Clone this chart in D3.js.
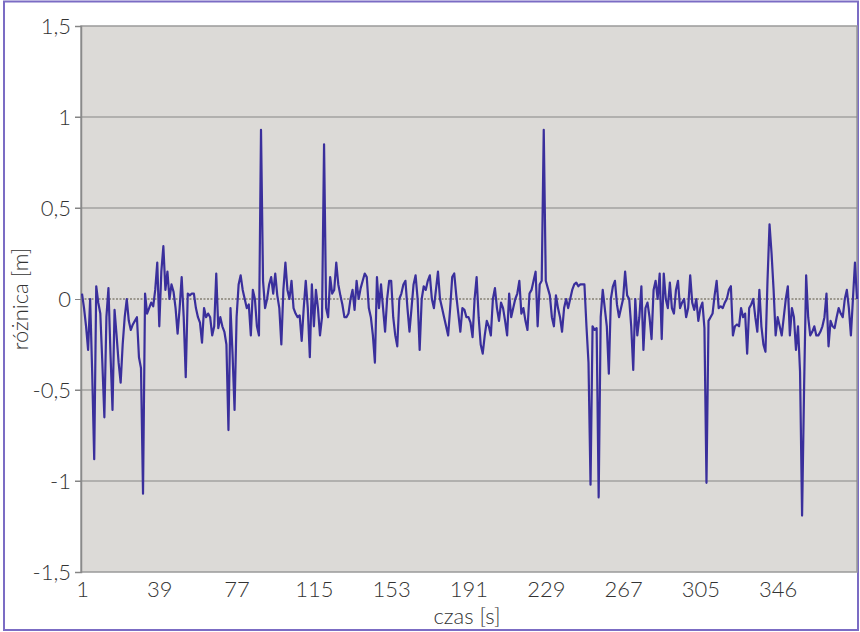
<!DOCTYPE html>
<html>
<head>
<meta charset="utf-8">
<script src="https://cdn.jsdelivr.net/npm/d3@7"></script>
<style>
  html, body { margin: 0; padding: 0; background: #fff; }
  svg { display: block; font-family: Lato, "DejaVu Sans", sans-serif; }
</style>
</head>
<body>
<svg id="chart" width="860" height="632"></svg>
<script>
// różnica [m], one value per sample (category index)
const diffs = [
  0.03, -0.05, -0.15, -0.28, 0.0, -0.4, -0.88, 0.07, -0.02, -0.08,
  -0.35, -0.65, -0.1, 0.06, -0.3, -0.61, -0.06, -0.2, -0.35, -0.46,
  -0.25, -0.1, 0.0, -0.12, -0.17, -0.14, -0.12, -0.1, -0.32, -0.38,
  -1.07, 0.03, -0.08, -0.05, -0.02, -0.04, 0.05, 0.2, -0.15, 0.15,
  0.29, 0.05, 0.15, 0.0, 0.08, 0.04, -0.05, -0.19, -0.05, 0.12,
  -0.1, -0.43, 0.03, 0.02, 0.03, 0.03, -0.05, -0.1, -0.13, -0.24,
  -0.05, -0.1, -0.08, -0.1, -0.2, -0.15, 0.14, -0.16, -0.1, -0.15,
  -0.18, -0.25, -0.72, -0.05, -0.3, -0.61, -0.1, 0.08, 0.13, 0.05,
  0.0, -0.05, -0.03, -0.2, 0.05, 0.0, -0.15, -0.2, 0.93, 0.1,
  -0.05, 0.0, 0.08, 0.12, 0.03, 0.14, 0.02, -0.05, -0.25, 0.05,
  0.2, 0.05, 0.0, 0.1, -0.05, -0.08, -0.1, -0.09, -0.23, -0.05,
  0.1, -0.05, -0.32, 0.08, -0.15, 0.05, -0.05, -0.2, -0.1, 0.85,
  -0.05, -0.1, 0.12, 0.03, 0.05, 0.2, 0.08, 0.02, -0.03, -0.1,
  -0.1, -0.08, 0.0, 0.05, -0.06, 0.1, 0.0, 0.06, 0.1, 0.14,
  0.12, -0.05, -0.1, -0.2, -0.35, 0.12, -0.05, 0.08, -0.05, -0.18,
  0.0, 0.1, 0.1, -0.1, -0.2, -0.26, 0.0, 0.03, 0.08, 0.1,
  -0.05, -0.18, -0.05, 0.08, 0.13, 0.0, -0.28, 0.0, 0.07, 0.05,
  0.1, 0.13, 0.0, -0.05, 0.05, 0.15, 0.0, -0.05, -0.1, -0.15,
  -0.2, -0.05, 0.12, 0.14, 0.02, -0.08, -0.18, -0.05, -0.06, -0.1,
  -0.1, -0.13, -0.21, 0.0, 0.12, -0.1, -0.25, -0.3, -0.2, -0.12,
  -0.15, -0.2, 0.0, 0.06, -0.05, -0.12, -0.02, -0.05, -0.12, -0.2,
  0.03, -0.1, -0.05, 0.0, 0.03, 0.1, -0.08, -0.05, -0.12, -0.17,
  0.03, 0.05, 0.1, 0.15, -0.15, 0.08, 0.1, 0.93, 0.1, 0.06,
  0.02, -0.1, -0.15, 0.02, -0.05, -0.1, -0.18, -0.05, 0.0, -0.05,
  0.0, 0.05, 0.08, 0.09, 0.07, 0.08, 0.08, 0.08, -0.15, -0.35,
  -1.02, -0.15, -0.17, -0.16, -1.09, -0.1, 0.05, -0.05, -0.15, -0.41,
  0.0, 0.07, 0.1, -0.03, -0.1, -0.05, 0.0, 0.15, 0.02, 0.0,
  -0.15, -0.39, 0.0, -0.2, -0.1, 0.07, -0.28, -0.05, -0.02, -0.1,
  -0.22, 0.05, 0.1, 0.0, 0.14, -0.22, 0.14, 0.0, -0.05, 0.09,
  -0.05, -0.08, 0.05, 0.1, -0.05, -0.02, 0.0, -0.1, -0.05, 0.13,
  -0.02, -0.06, 0.0, -0.12, -0.05, -0.02, -0.16, -1.01, -0.12, -0.1,
  -0.08, 0.02, 0.1, -0.05, -0.04, -0.05, -0.02, 0.0, 0.05, 0.07,
  -0.2, -0.15, -0.14, -0.15, -0.05, -0.1, -0.08, -0.3, -0.05, -0.03,
  0.0, -0.1, -0.18, 0.05, -0.15, -0.25, -0.29, 0.1, 0.41, 0.25,
  0.05, -0.2, -0.1, -0.15, -0.2, -0.1, 0.0, 0.07, -0.2, -0.05,
  -0.1, -0.28, -0.15, -0.4, -1.19, -0.48, 0.13, -0.1, -0.2, -0.18,
  -0.15, -0.2, -0.2, -0.18, -0.15, -0.1, 0.03, -0.26, -0.12, -0.15,
  -0.16, -0.1, -0.05, -0.08, -0.1, 0.0, 0.05, -0.05, -0.2, 0.0,
  0.2, 0.0
];

// category axis labels (czas [s]) and the sample index where each sits
const xTickIdx = [0, 38, 76, 114, 152, 190, 228, 266, 304, 342];
const xTickLabels = ['1', '39', '77', '115', '153', '191', '229', '267', '305', '346'];
const yTicks = [-1.5, -1, -0.5, 0, 0.5, 1, 1.5];

const W = 860, H = 632;
const m = { left: 81, right: 857, top: 26, bottom: 572 };

const svg = d3.select('#chart');

// outer frame
svg.append('rect')
  .attr('x', 4).attr('y', 1.5).attr('width', W - 6).attr('height', H - 3.5)
  .attr('fill', '#fff').attr('stroke', '#7b6cc4').attr('stroke-width', 2);

const x = d3.scaleLinear().domain([0, diffs.length - 1]).range([m.left + 1, m.right]);
const y = d3.scaleLinear().domain([-1.5, 1.5]).range([m.bottom, m.top]);

// plot area
svg.append('rect')
  .attr('x', m.left).attr('y', m.top)
  .attr('width', m.right - m.left).attr('height', m.bottom - m.top)
  .attr('fill', '#dcdad7').attr('stroke', '#9a9a9a').attr('stroke-width', 1.5);

// gridlines
svg.append('g').selectAll('line')
  .data(yTicks.filter(d => d !== 0 && Math.abs(d) !== 1.5))
  .join('line')
  .attr('x1', m.left - 6).attr('x2', m.right)
  .attr('y1', d => y(d)).attr('y2', d => y(d))
  .attr('stroke', '#858585').attr('stroke-width', 1.2);

// zero line (dotted)
svg.append('line')
  .attr('x1', m.left).attr('x2', m.right)
  .attr('y1', y(0)).attr('y2', y(0))
  .attr('stroke', '#9a968c').attr('stroke-width', 2)
  .attr('stroke-dasharray', '2,1.5');

// y axis
const yAxis = svg.append('g')
  .attr('transform', `translate(${m.left},0)`)
  .call(d3.axisLeft(y).tickValues(yTicks).tickSize(6).tickPadding(4)
    .tickFormat(d => String(d).replace('.', ',')));
yAxis.select('.domain').attr('stroke', '#8a8a8a').attr('stroke-width', 1.5);
yAxis.selectAll('.tick line').attr('stroke', '#858585');
yAxis.selectAll('.tick text')
  .attr('font-size', 22).attr('fill', '#333').attr('font-family', 'Lato, sans-serif')
  .attr('font-weight', 300);

// x axis
const xAxis = svg.append('g')
  .attr('transform', `translate(0,${m.bottom})`)
  .call(d3.axisBottom(x).tickValues(xTickIdx).tickSize(0).tickPadding(9)
    .tickFormat((d, i) => xTickLabels[i]));
xAxis.select('.domain').remove();
xAxis.selectAll('.tick text')
  .attr('font-size', 22).attr('fill', '#333').attr('font-family', 'Lato, sans-serif')
  .attr('font-weight', 300);

// series
const line = d3.line().x((d, i) => x(i)).y(d => y(d));
svg.append('path')
  .datum(diffs)
  .attr('d', line)
  .attr('fill', 'none')
  .attr('stroke', '#3a2f9c')
  .attr('stroke-width', 2.2)
  .attr('stroke-linejoin', 'round');

// axis titles
svg.append('text')
  .attr('x', 467).attr('y', 624)
  .attr('text-anchor', 'middle')
  .attr('font-size', 22).attr('font-weight', 300).attr('fill', '#333')
  .text('czas [s]');

svg.append('text')
  .attr('transform', `translate(28,${y(0)}) rotate(-90)`)
  .attr('text-anchor', 'middle')
  .attr('font-size', 22).attr('font-weight', 300).attr('fill', '#333')
  .text('różnica [m]');
</script>
</body>
</html>
